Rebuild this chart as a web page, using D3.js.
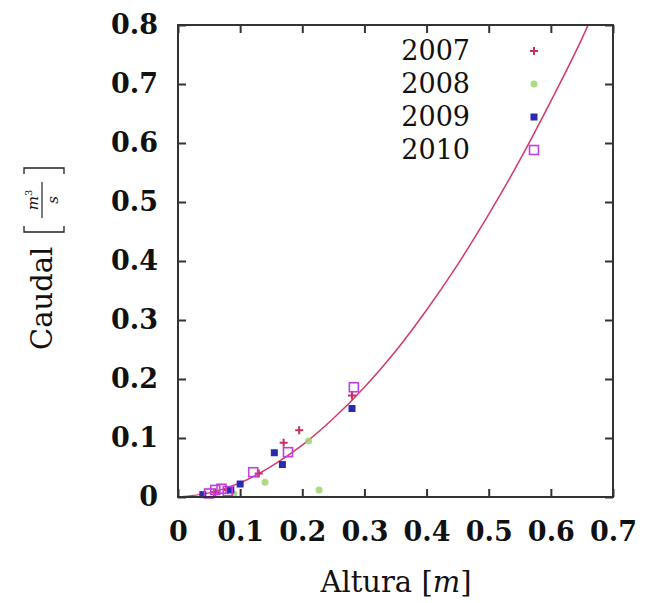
<!DOCTYPE html>
<html>
<head>
<meta charset="utf-8">
<script src="https://cdn.jsdelivr.net/npm/d3@7"></script>
<style>
  body { margin: 0; background: #fff; }
  text { font-family: "DejaVu Serif", serif; fill: #111; }
</style>
</head>
<body>
<div id="chart"></div>
<script>
// data
var xTicks = [0, 0.1, 0.2, 0.3, 0.4, 0.5, 0.6, 0.7];
var yTicks = [0, 0.1, 0.2, 0.3, 0.4, 0.5, 0.6, 0.7, 0.8];
var years = ["2007", "2008", "2009", "2010"];

var h2007 = [0.06, 0.08, 0.13, 0.17, 0.195, 0.28];
var q2007 = [0.008, 0.012, 0.04, 0.092, 0.113, 0.172];
var h2008 = [0.09, 0.14, 0.21, 0.227];
var q2008 = [0.005, 0.025, 0.095, 0.012];
var h2009 = [0.04, 0.085, 0.1, 0.155, 0.168, 0.28];
var q2009 = [0.004, 0.012, 0.022, 0.075, 0.055, 0.15];
var h2010 = [0.05, 0.06, 0.07, 0.08, 0.121, 0.177, 0.283];
var q2010 = [0.006, 0.012, 0.014, 0.01, 0.042, 0.076, 0.186];

// fitted curve
var curveH = [0, 0.05, 0.1, 0.15, 0.2, 0.25, 0.3, 0.35, 0.4, 0.45, 0.5, 0.55, 0.6, 0.65, 0.66];
var curveQ = [0, 0.007, 0.024, 0.052, 0.088, 0.133, 0.186, 0.247, 0.317, 0.394, 0.479, 0.571, 0.671, 0.777, 0.8];

var W = 649, H = 603;
var margin = {top: 25, right: 36, bottom: 106, left: 178};
var width = W - margin.left - margin.right,
    height = H - margin.top - margin.bottom;

var svg = d3.select("#chart").append("svg")
    .attr("width", W)
    .attr("height", H);

var g = svg.append("g")
    .attr("transform", "translate(" + margin.left + "," + margin.top + ")");

var x = d3.scaleLinear().domain([0, 0.7]).range([0, width]);
var y = d3.scaleLinear().domain([0, 0.8]).range([height, 0]);

var colors = {"2007": "#c8305a", "2008": "#9fd36e", "2009": "#2a2ab0", "2010": "#c23ee0"};

// clip to the frame
g.append("clipPath").attr("id", "clip")
  .append("rect").attr("width", width).attr("height", height);

// fitted curve
var line = d3.line()
    .x(function(d, i) { return x(curveH[i]); })
    .y(function(d) { return y(d); })
    .curve(d3.curveMonotoneX);

g.append("path")
    .datum(curveQ)
    .attr("clip-path", "url(#clip)")
    .attr("d", line)
    .attr("fill", "none")
    .attr("stroke", "#d4396a")
    .attr("stroke-width", 1.5);

// point symbols
function drawMark(sel, year) {
  var c = colors[year];
  if (year == "2007") {
    sel.append("path").attr("d", "M-4,0H4M0,-4V4")
      .attr("stroke", c).attr("stroke-width", 2).attr("fill", "none");
  } else if (year == "2008") {
    sel.append("circle").attr("r", 3.5).attr("fill", c).attr("opacity", 0.85);
  } else if (year == "2009") {
    sel.append("rect").attr("x", -3.5).attr("y", -3.5).attr("width", 7).attr("height", 7)
      .attr("fill", c);
  } else {
    sel.append("rect").attr("x", -4.5).attr("y", -4.5).attr("width", 9).attr("height", 9)
      .attr("fill", "none").attr("stroke", c).attr("stroke-width", 1.6);
  }
}

var series = [
  {year: "2007", h: h2007, q: q2007},
  {year: "2008", h: h2008, q: q2008},
  {year: "2009", h: h2009, q: q2009},
  {year: "2010", h: h2010, q: q2010}
];

series.forEach(function(s) {
  g.selectAll(".p" + s.year)
    .data(s.q)
    .enter().append("g")
      .attr("transform", function(d, i) { return "translate(" + x(s.h[i]) + "," + y(d) + ")"; })
      .each(function() { drawMark(d3.select(this), s.year); });
});

// frame
g.append("rect")
    .attr("width", width).attr("height", height)
    .attr("fill", "none").attr("stroke", "#333").attr("stroke-width", 2);

// axes with inward ticks, mirrored
var tickLen = 8;
var xAxis = g.append("g")
    .attr("transform", "translate(0," + height + ")")
    .call(d3.axisBottom(x).tickValues(xTicks).tickSize(-tickLen)
      .tickFormat(function(d) { return d === 0 ? "0" : d3.format(".1f")(d); }));
g.append("g")
    .call(d3.axisTop(x).tickValues(xTicks).tickSize(-tickLen).tickFormat(""));
var yAxis = g.append("g")
    .call(d3.axisLeft(y).tickValues(yTicks).tickSize(-tickLen).tickPadding(20)
      .tickFormat(function(d) { return d === 0 ? "0" : d3.format(".1f")(d); }));
g.append("g")
    .attr("transform", "translate(" + width + ",0)")
    .call(d3.axisRight(y).tickValues(yTicks).tickSize(-tickLen).tickFormat(""));

g.selectAll(".domain").remove();
g.selectAll(".tick line").attr("stroke", "#333").attr("stroke-width", 2);
g.selectAll(".tick text")
    .style("font-family", "DejaVu Serif")
    .style("font-size", "27px")
    .style("font-weight", "bold")
    .attr("fill", "#111");
xAxis.selectAll(".tick text").attr("dy", "0.71em").attr("y", 25);

// legend
var legend = g.append("g");
years.forEach(function(yr, i) {
  var ly = 26 + i * 33;
  legend.append("text")
    .attr("x", 470 - margin.left)
    .attr("y", ly)
    .attr("dy", "0.35em")
    .attr("text-anchor", "end")
    .style("font-size", "27px")
    .text(yr);
  drawMark(legend.append("g")
    .attr("transform", "translate(" + (534 - margin.left) + "," + ly + ")"), yr);
});

// x title
svg.append("text")
    .attr("x", 396)
    .attr("y", 592)
    .attr("text-anchor", "middle")
    .style("font-size", "29px")
    .text("Altura ")
  .append("tspan").text("[")
  .append("tspan").style("font-style", "italic").text("m")
  .append("tspan").style("font-style", "normal").text("]");

// y title, rotated, with bracketed fraction m^3/s
var yt = svg.append("g").attr("transform", "translate(52,350) rotate(-90)");
yt.append("text").attr("x", 0).attr("y", 0).style("font-size", "29px").text("Caudal");
yt.append("path")
    .attr("d", "M124,-28H118V12H124 M176,-28H182V12H176")
    .attr("fill", "none").attr("stroke", "#222").attr("stroke-width", 1.3);
yt.append("line")
    .attr("x1", 132).attr("x2", 168).attr("y1", -10).attr("y2", -10)
    .attr("stroke", "#222").attr("stroke-width", 1.2);
yt.append("text").attr("x", 150).attr("y", -14).attr("text-anchor", "middle")
    .style("font-size", "15px").style("font-style", "italic")
    .text("m")
  .append("tspan").attr("dy", -6).style("font-size", "10px").style("font-style", "normal").text("3");
yt.append("text").attr("x", 150).attr("y", 6).attr("text-anchor", "middle")
    .style("font-size", "15px").style("font-style", "italic")
    .text("s");
</script>
</body>
</html>
